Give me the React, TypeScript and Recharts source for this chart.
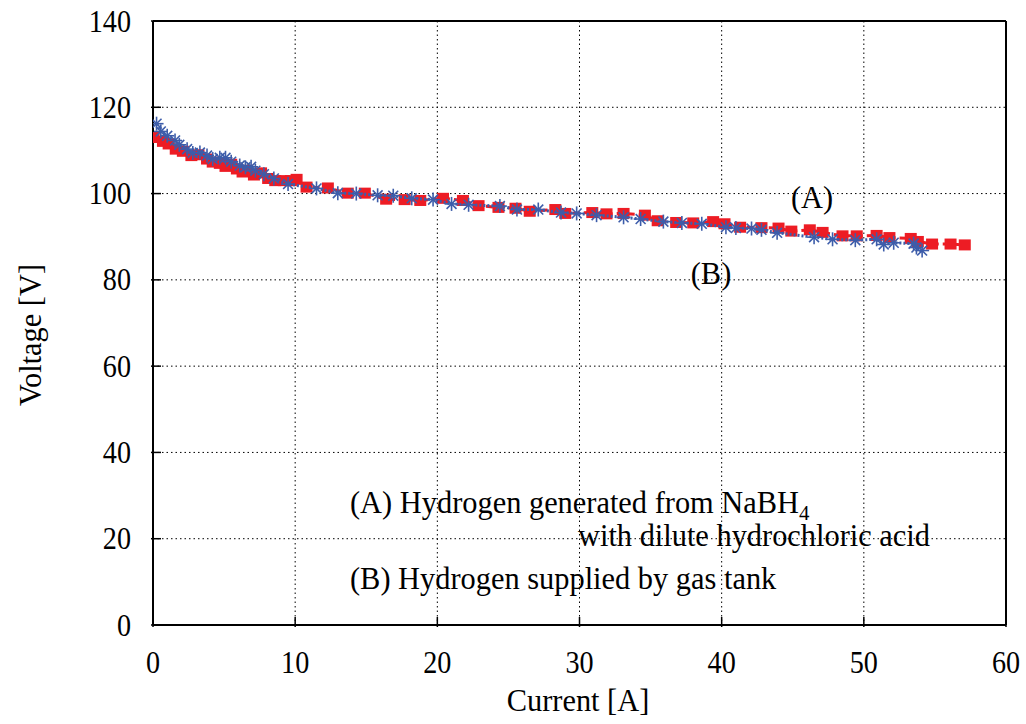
import React from "react";
import {
  ComposedChart,
  Scatter,
  XAxis,
  YAxis,
  CartesianGrid,
} from "recharts";

// Series (A): Hydrogen generated from NaBH4 with dilute hydrochloric acid
const currentA = [
  0.05, 0.7, 1.1, 1.6, 2.1, 2.7, 3.2, 3.8, 4.2, 4.7, 5.1, 5.5, 5.9, 6.3, 6.6,
  7.1, 7.6, 8.1, 8.6, 9.2, 9.7, 10.1, 10.8, 12.3, 13.7, 14.9, 16.4, 17.7, 18.8,
  20.4, 21.8, 22.9, 24.3, 25.5, 26.5, 28.3, 29.0, 30.9, 31.9, 33.1, 34.6, 35.5,
  36.8, 38.0, 39.4, 40.2, 41.3, 42.8, 44.0, 44.9, 46.2, 47.1, 48.5, 49.5, 50.9,
  51.8, 53.3, 53.8, 54.8, 56.1, 57.1,
];
const voltageA = [
  113.0, 112.1, 111.5, 110.3, 109.8, 108.8, 109.0, 108.0, 107.3, 107.0, 106.3,
  106.8, 105.7, 105.0, 105.4, 104.3, 104.8, 103.5, 103.0, 103.0, 103.0, 103.3,
  101.5, 101.3, 100.1, 100.1, 98.7, 98.6, 98.4, 98.9, 98.4, 97.2, 96.8, 96.6,
  95.9, 96.3, 95.4, 95.6, 95.3, 95.4, 95.0, 93.7, 93.3, 93.2, 93.5, 93.0, 92.2,
  92.1, 92.0, 91.3, 91.6, 91.0, 90.2, 90.2, 90.3, 89.8, 89.6, 88.9, 88.3, 88.3,
  88.1,
];

// Series (B): Hydrogen supplied by gas tank
const currentB = [
  0.25, 0.55, 1.0, 1.55, 1.85, 2.4, 2.8, 3.3, 3.8, 4.2, 4.7, 5.1, 5.5, 6.1, 6.5,
  6.9, 7.2, 7.8, 8.5, 9.5, 11.5, 13.0, 14.3, 15.8, 16.9, 18.2, 19.7, 21.0, 22.2,
  24.4, 25.6, 27.1, 28.7, 29.8, 31.2, 33.1, 34.3, 35.9, 37.2, 38.6, 40.3, 41.0,
  42.1, 42.8, 43.9, 46.5, 47.8, 49.4, 50.9, 51.4, 52.1, 53.5, 53.7, 54.1,
];
const voltageB = [
  116.2, 114.4, 113.4, 112.3, 111.3, 110.3, 109.4, 109.5, 108.8, 108.0, 108.3,
  108.3, 107.4, 106.5, 106.1, 106.2, 105.3, 104.5, 103.5, 102.2, 101.2, 100.1,
  100.0, 99.6, 99.5, 98.9, 98.6, 97.6, 97.4, 97.1, 96.3, 96.3, 95.6, 95.4, 95.0,
  94.5, 94.1, 93.5, 93.2, 93.0, 92.2, 92.0, 91.9, 91.6, 90.9, 89.9, 89.4, 89.2,
  89.4, 88.2, 88.6, 88.4, 87.5, 86.8,
];

const xTicks = [0, 10, 20, 30, 40, 50, 60];
const yTicks = [0, 20, 40, 60, 80, 100, 120, 140];

const dataA = currentA.map((x, i) => ({ x, y: voltageA[i] }));
const dataB = currentB.map((x, i) => ({ x, y: voltageB[i] }));

const FONT = "'Liberation Serif', 'Times New Roman', serif";
const FS = 32;
const SX = 0.95;
const TSX = 0.88;
const RED = "#ED1C24";
const BLUE = "#3D5DAA";
const TICK = 10;

const CText = ({ x, y, anchor = "start", sx = SX, rotate = 0, baseline, children }: any) => (
  <text
    transform={`translate(${x} ${y}) rotate(${rotate}) scale(${sx} 1)`}
    x={0}
    y={0}
    textAnchor={anchor}
    dominantBaseline={baseline}
    fontFamily={FONT}
    fontSize={FS}
    fill="#000"
  >
    {children}
  </text>
);

const Square = (props: any) => {
  const { cx, cy } = props;
  if (cx == null || cy == null) return null;
  return <rect x={cx - 6} y={cy - 5.5} width={12} height={11} fill={RED} />;
};

const Asterisk = (props: any) => {
  const { cx, cy } = props;
  if (cx == null || cy == null) return null;
  const r = 7;
  const d = r * 0.7071;
  return (
    <g stroke={BLUE} strokeWidth={1.6}>
      <line x1={cx - r} y1={cy} x2={cx + r} y2={cy} />
      <line x1={cx} y1={cy - r} x2={cx} y2={cy + r} />
      <line x1={cx - d} y1={cy - d} x2={cx + d} y2={cy + d} />
      <line x1={cx - d} y1={cy + d} x2={cx + d} y2={cy - d} />
    </g>
  );
};

const BottomTick = (props: any) => {
  const { x, y, payload } = props;
  return (
    <g>
      <line x1={x} y1={y} x2={x} y2={y - TICK} stroke="#000" strokeWidth={1.5} />
      <CText x={x} y={y + 35} anchor="middle" baseline="central" sx={TSX}>
        {payload.value}
      </CText>
    </g>
  );
};

const TopTick = (props: any) => {
  const { x, y } = props;
  return <line x1={x} y1={y} x2={x} y2={y + TICK} stroke="#000" strokeWidth={1.5} />;
};

const LeftTick = (props: any) => {
  const { x, y, payload } = props;
  return (
    <g>
      <line x1={x} y1={y} x2={x + TICK} y2={y} stroke="#000" strokeWidth={1.5} />
      <CText x={x - 20} y={y} anchor="end" baseline="central" sx={TSX}>
        {payload.value}
      </CText>
    </g>
  );
};

const RightTick = (props: any) => {
  const { x, y } = props;
  return <line x1={x} y1={y} x2={x - TICK} y2={y} stroke="#000" strokeWidth={1.5} />;
};

export default function App() {
  return (
    <div style={{ position: "absolute", left: 0, top: 0, width: 1026, height: 724, background: "#fff" }}>
      <ComposedChart
        width={1026}
        height={724}
        margin={{ top: 20, right: 19, bottom: 39, left: 73 }}
      >
        <CartesianGrid
          xAxisId="b"
          yAxisId="l"
          stroke="#000"
          strokeDasharray="1.5 3"
          strokeWidth={1}
        />
        <XAxis
          xAxisId="b"
          type="number"
          dataKey="x"
          domain={[0, 60]}
          ticks={xTicks}
          allowDataOverflow
          height={60}
          tickSize={0}
          tickLine={false}
          axisLine={{ stroke: "#000", strokeWidth: 2 }}
          tick={<BottomTick />}
          interval={0}
        />
        <XAxis
          xAxisId="t"
          orientation="top"
          type="number"
          dataKey="x"
          domain={[0, 60]}
          ticks={xTicks}
          height={1}
          tickSize={0}
          tickLine={false}
          axisLine={{ stroke: "#000", strokeWidth: 2 }}
          tick={<TopTick />}
          interval={0}
        />
        <YAxis
          yAxisId="l"
          type="number"
          dataKey="y"
          domain={[0, 140]}
          ticks={yTicks}
          allowDataOverflow
          width={80}
          tickSize={0}
          tickLine={false}
          axisLine={{ stroke: "#000", strokeWidth: 2 }}
          tick={<LeftTick />}
          interval={0}
        />
        <YAxis
          yAxisId="r"
          orientation="right"
          type="number"
          dataKey="y"
          domain={[0, 140]}
          ticks={yTicks}
          width={1}
          tickSize={0}
          tickLine={false}
          axisLine={{ stroke: "#000", strokeWidth: 2 }}
          tick={<RightTick />}
          interval={0}
        />
        <Scatter
          xAxisId="b"
          yAxisId="l"
          data={dataA}
          isAnimationActive={false}
          line={{ stroke: RED, strokeWidth: 3, strokeDasharray: "7 4" }}
          lineType="joint"
          shape={<Square />}
        />
        <Scatter
          xAxisId="b"
          yAxisId="l"
          data={dataB}
          isAnimationActive={false}
          line={{ stroke: BLUE, strokeWidth: 3, strokeDasharray: "2 2" }}
          lineType="joint"
          shape={<Asterisk />}
        />
      </ComposedChart>
      <svg
        width={1026}
        height={724}
        style={{ position: "absolute", left: 0, top: 0, pointerEvents: "none" }}
      >
        <CText x={812} y={197} anchor="middle" baseline="central">(A)</CText>
        <CText x={711} y={273} anchor="middle" baseline="central">(B)</CText>
        <CText x={350} y={513}>
          (A) Hydrogen generated from NaBH
          <tspan fontSize={22} dy={7}>4</tspan>
        </CText>
        <CText x={578} y={546}>with dilute hydrochloric acid</CText>
        <CText x={350} y={589}>(B) Hydrogen supplied by gas tank</CText>
        <CText x={30} y={335} anchor="middle" baseline="central" rotate={-90}>
          Voltage [V]
        </CText>
        <CText x={578} y={700} anchor="middle" baseline="central">Current [A]</CText>
      </svg>
    </div>
  );
}
